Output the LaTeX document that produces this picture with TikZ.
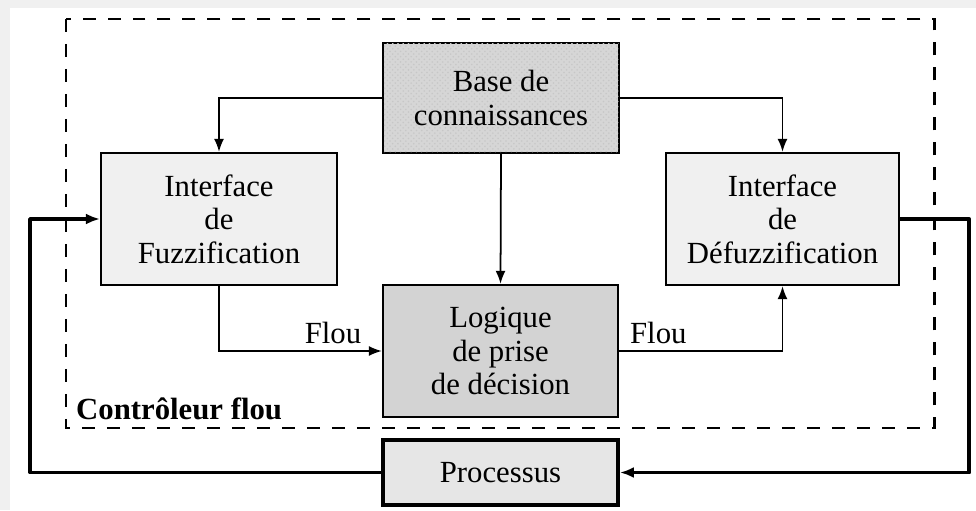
\documentclass[tikz,border=0pt]{standalone}
\usepackage{fontspec}
\setmainfont{Liberation Serif}
\usetikzlibrary{arrows,arrows.meta,positioning,patterns}

\definecolor{fondclair}{RGB}{240,240,240}
\definecolor{grisbase}{RGB}{214,214,214}
\definecolor{grislogique}{RGB}{211,211,211}
\definecolor{grisproc}{RGB}{230,230,230}

\begin{document}
\begin{tikzpicture}[x=0.02cm,y=-0.02cm,
	bloc/.style={draw, line width=1.3pt, align=center, inner sep=0pt,
		font=\fontsize{17.5}{19}\selectfont},
	fleche/.style={-{Latex[length=0.26cm,width=0.2cm]}, line width=1pt},
	boucle/.style={-{Latex[length=0.28cm,width=0.22cm]}, line width=2.2pt, line join=round},
	etiquette/.style={font=\fontsize{17.5}{19}\selectfont}]
	
	% fond
	\fill[fondclair] (0,0) rectangle (976,510);
	\fill[white] (10,8) rectangle (976,510);
	\useasboundingbox (0,0) rectangle (976,510);
	
	% controleur flou
	\draw[line width=1.7pt, dash pattern=on 0.26cm off 0.24cm] (66,19) rectangle (934,428);
	\node[anchor=west, font=\fontsize{17.5}{19}\selectfont\bfseries] (ctrl) at (70,409) {Contrôleur flou};
	
	% blocs
	\node[bloc, fill=grisbase, postaction={pattern=crosshatch dots, pattern color=black!22},
		minimum width=4.72cm, minimum height=2.2cm] (base) at (501,98) {Base de\\connaissances};
	\node[bloc, fill=fondclair, minimum width=4.72cm, minimum height=2.64cm] (fuzz) at (219,219)
		{Interface\\de\\Fuzzification};
	\node[bloc, fill=fondclair, minimum width=4.66cm, minimum height=2.64cm] (defuzz) at (782.5,219)
		{Interface\\de\\Défuzzification};
	\node[bloc, fill=grislogique, minimum width=4.7cm, minimum height=2.64cm] (logique) at (500.5,351)
		{Logique\\de prise\\de décision};
	\node[bloc, fill=grisproc, line width=2.2pt, minimum width=4.7cm, minimum height=1.3cm] (processus)
		at (500.5,472.5) {Processus};
	
	% liaisons
	\draw[fleche] (base.west) -| (fuzz.north);
	\draw[fleche] (base.east) -| (defuzz.north);
	\draw[fleche] (base.south) -- (logique.north);
	\draw[fleche] (fuzz.south) |- node[etiquette, pos=0.85, above] {Flou} (logique.west);
	\draw[fleche] (logique.east) -| node[etiquette, pos=0.12, above] {Flou} (defuzz.south);
	
	% boucle
	\draw[boucle] (defuzz.east) -- ++(69,0) |- (processus.east);
	\draw[boucle] (processus.west) -- ++(-351,0) |- (fuzz.west);
	
\end{tikzpicture}
\end{document}
